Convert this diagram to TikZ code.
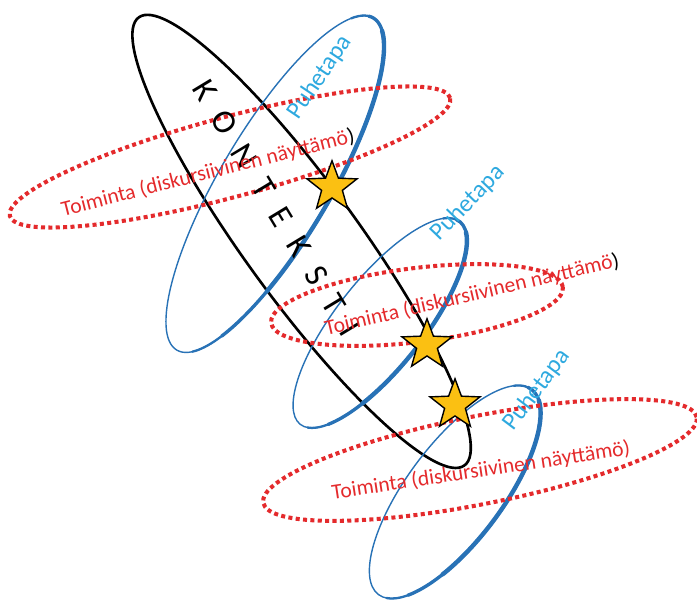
\documentclass[tikz,border=0pt]{standalone}
\usepackage{fontspec}
\setmainfont{Carlito}
\usepackage{tikz}
\usetikzlibrary{shapes.geometric}
\definecolor{puheline}{HTML}{2872B6}
\definecolor{puhetext}{HTML}{2EA9DF}
\definecolor{toimline}{HTML}{E42A2C}
\definecolor{tahtifill}{HTML}{FBC012}
\tikzset{
  kline/.style={line width=1.5pt,draw=black},
  pthin/.style={line width=0.8pt,draw=puheline},
  pthick/.style={line width=#1,draw=puheline,line cap=round},
  tline/.style={line width=2.3pt,draw=toimline,dash pattern=on 2.3pt off 1.9pt},
  tahti/.style={star,star points=5,star point ratio=2.4,draw=black,fill=tahtifill,line width=0.8pt,inner sep=0pt,minimum size=1.05cm},
  tlabel/.style={text=toimline,font=\fontsize{12.3}{14}\selectfont,inner sep=0pt},
  plabel/.style={text=puhetext,font=\fontsize{14}{16}\selectfont,inner sep=0pt},
  klabel/.style={text=black,font=\fontsize{19}{22}\selectfont,inner sep=0pt}
}
\newcommand{\toimteksti}{Toiminta (diskursiivinen näyttämö}
\newcommand{\kvali}{\hspace{0.53em}}

\begin{document}
\begin{tikzpicture}[x=0.02cm,y=-0.02cm]
  \useasboundingbox (0,0) rectangle (697,608);

  \draw[kline,rotate around={-54:(301.6,241.4)}] (301.6,241.4) ellipse [x radius=5.54cm,y radius=1.14cm];

  \begin{scope}[shift={(275,184)},rotate=59.4]
    \draw[pthin] (0,0) ellipse [x radius=3.86cm,y radius=1.1cm];
    \draw[pthick=1.3pt] (20:3.86cm and 1.1cm) arc[start angle=20,end angle=-165,x radius=3.86cm,y radius=1.1cm];
    \draw[pthick=1.9pt] (5:3.86cm and 1.1cm) arc[start angle=5,end angle=-145,x radius=3.86cm,y radius=1.1cm];
    \draw[pthick=2.5pt] (-15:3.86cm and 1.1cm) arc[start angle=-15,end angle=-120,x radius=3.86cm,y radius=1.1cm];
  \end{scope}
  \begin{scope}[shift={(380,323)},rotate=51.8]
    \draw[pthin] (0,0) ellipse [x radius=2.58cm,y radius=0.88cm];
    \draw[pthick=1.3pt] (20:2.58cm and 0.88cm) arc[start angle=20,end angle=-170,x radius=2.58cm,y radius=0.88cm];
    \draw[pthick=1.9pt] (5:2.58cm and 0.88cm) arc[start angle=5,end angle=-150,x radius=2.58cm,y radius=0.88cm];
    \draw[pthick=2.5pt] (-15:2.58cm and 0.88cm) arc[start angle=-15,end angle=-125,x radius=2.58cm,y radius=0.88cm];
  \end{scope}
  \begin{scope}[shift={(455,492)},rotate=53.3]
    \draw[pthin] (0,0) ellipse [x radius=2.56cm,y radius=0.96cm];
    \draw[pthick=1.3pt] (20:2.56cm and 0.96cm) arc[start angle=20,end angle=-170,x radius=2.56cm,y radius=0.96cm];
    \draw[pthick=1.9pt] (5:2.56cm and 0.96cm) arc[start angle=5,end angle=-150,x radius=2.56cm,y radius=0.96cm];
    \draw[pthick=2.5pt] (-15:2.56cm and 0.96cm) arc[start angle=-15,end angle=-125,x radius=2.56cm,y radius=0.96cm];
  \end{scope}

  \draw[tline,rotate around={15:(230,157)}] (230,157) ellipse [x radius=4.56cm,y radius=0.8cm];
  \draw[tline,rotate around={7:(417,305)}] (417,305) ellipse [x radius=2.94cm,y radius=0.74cm];
  \draw[tline,rotate around={11.2:(480,460)}] (480,460) ellipse [x radius=4.42cm,y radius=0.88cm];

  \node[klabel,rotate=-58.8] (konteksti) at (276,208) {K\kvali O\kvali N\kvali T\kvali E\kvali K\kvali S\kvali T\kvali I};

  \node[plabel,rotate=56] (puhe1) at (320,77) {Puhetapa};
  \node[plabel,rotate=46] (puhe2) at (468,203) {Puhetapa};
  \node[plabel,rotate=53] (puhe3) at (537,390) {Puhetapa};

  \node[tlabel,rotate=14.3] (toim1) at (208,173) {\toimteksti\textcolor{black}{)}};
  \node[tlabel,rotate=13.2] (toim2) at (472,295) {\toimteksti\textcolor{black}{)}};
  \node[tlabel,rotate=8.6] (toim3) at (481,471) {\toimteksti)};

  \node[tahti] (tahti1) at (332,187) {};
  \node[tahti] (tahti2) at (427,345) {};
  \node[tahti] (tahti3) at (455,405) {};
\end{tikzpicture}
\end{document}
